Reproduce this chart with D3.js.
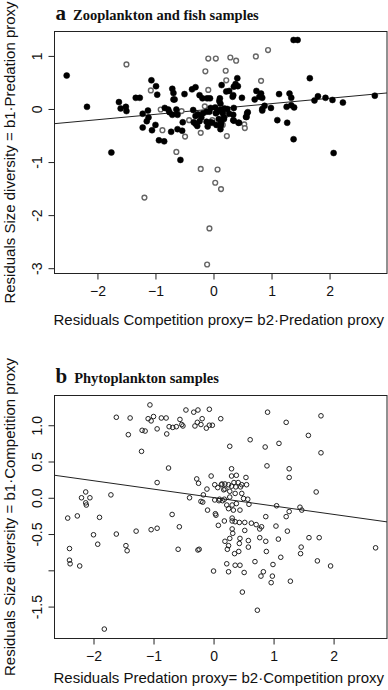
<!DOCTYPE html>
<html>
<head>
<meta charset="utf-8">
<script src="https://cdn.jsdelivr.net/npm/d3@7"></script>
<style>
  html, body { margin: 0; padding: 0; background: #fff; }
  svg { display: block; }
</style>
</head>
<body>
<div id="chart"></div>
<script>
// ---------- Data ----------
// Panel a: Zooplankton and fish samples (filled = zooplankton, open = fish)
const aFilled = [
  [-2.53,0.63],[-2.18,0.04],[-1.63,0.13],[-1.60,0.01],[-1.51,0.04],[-1.50,-0.04],[-1.34,0.21],[-1.27,0.21],
  [-1.07,0.54],[-0.99,0.43],[-0.97,0.27],[-1.22,-0.09],[-1.13,-0.03],[-1.15,-0.23],[-1.12,-0.16],[-1.22,-0.35],
  [-1.06,-0.40],[-1.00,-0.30],[-0.84,0.02],[-0.78,-0.01],[-0.71,0.38],[-0.69,0.30],[-0.69,0.18],[-0.67,0.18],
  [-0.50,0.28],[-0.37,0.37],[-0.31,0.41],[-0.24,0.26],[-0.19,0.20],[-0.11,0.20],[-0.06,0.20],[0.14,0.45],
  [0.11,0.20],[-0.76,-0.06],[-0.71,-0.11],[-0.64,-0.01],[-0.62,-0.11],[-0.53,-0.25],[-0.62,-0.38],[-0.54,-0.41],
  [-0.73,-0.43],[-0.94,-0.59],[-0.85,-0.61],[-1.76,-0.82],[-0.57,-0.96],
  [-0.35,-0.02],[-0.27,-0.10],[-0.12,-0.05],[-0.05,0.02],[0.03,0.03],[0.06,-0.06],[-0.34,-0.25],[-0.05,-0.25],
  [-0.28,-0.32],[-0.10,-0.33],[0.09,-0.19],[0.18,-0.19],[0.16,-0.08],[0.34,-0.11],[0.35,-0.22],[0.43,-0.26],
  [0.12,-0.38],[0.13,-0.30],[0.19,0.01],[0.24,0.00],[0.35,0.02],[0.12,0.10],[0.10,0.15],[0.14,-0.02],
  [0.41,0.58],[0.38,0.47],[0.42,0.43],[0.35,0.42],[0.22,0.33],[0.27,0.34],[0.34,0.26],[0.33,0.23],[0.49,0.21],
  [0.74,0.34],[0.82,0.29],[0.84,0.21],[0.79,0.23],[0.71,0.18],[1.13,0.28],[1.31,0.29],[1.34,0.21],[1.80,0.24],
  [1.74,0.16],[1.93,0.21],[2.05,0.17],[2.23,0.12],[2.78,0.25],[1.66,0.58],[1.38,1.30],[1.45,1.30],
  [0.84,0.00],[0.88,0.06],[0.99,0.02],[1.26,0.04],[1.34,0.07],[1.39,0.03],[0.59,-0.06],[0.57,-0.15],
  [1.10,-0.21],[1.27,-0.26],[1.38,-0.57],[2.07,-0.83],
  [-0.31,-0.28],[-0.24,-0.23],[-0.21,-0.16],[-0.12,-0.24],[-0.02,-0.26],[0.05,-0.30],[0.13,-0.26],[0.18,-0.16],
  [0.27,-0.09],[0.34,-0.21],[0.44,-0.26],[0.56,-0.15],[0.58,-0.08],[-0.31,-0.13],[-0.18,-0.08],[-0.07,-0.05],
  [0.04,-0.08],[0.11,-0.02],[0.84,-0.03]
];
const aOpen = [
  [-1.50,0.84],[-1.08,0.35],[-0.91,-0.01],[-0.55,-0.04],[-0.42,-0.21],[-0.88,-0.40],[-0.49,-0.52],[-0.22,-0.45],
  [-0.64,-0.81],[-0.09,0.36],[-0.14,0.71],[-0.09,0.95],[0.04,0.95],[0.29,0.97],[0.39,0.91],[0.21,0.72],
  [0.22,0.54],[0.73,0.99],[0.94,1.11],[0.82,0.53],[0.22,-0.11],[0.53,-0.29],[0.54,-0.36],[0.16,-0.30],
  [0.23,-0.51],[-0.22,-1.13],[0.07,-1.14],[0.03,-1.39],[0.13,-1.51],[-1.19,-1.67],[-0.07,-2.25],[-0.11,-2.93],
  [-0.02,-0.21],[0.23,-0.09],[0.20,-0.01],[-0.15,0.05]
];
const aFit = { slope: 0.101, intercept: 0.0 };
const aXTicks = [-2, -1, 0, 1, 2];
const aYTicks = [1, 0, -1, -2, -3];
const aYTickLabels = ["1", "0", "-1", "-2", "-3"];

// Panel b: Phytoplankton samples
const bPoints = [
  [-1.62,1.11],[-1.39,1.10],[-1.42,0.87],[-1.06,1.28],[-1.09,1.09],[-1.00,1.12],[-1.04,1.06],[-1.19,0.93],
  [-1.14,0.92],[-0.94,0.95],[-0.87,1.10],[-0.79,1.10],[-0.78,0.88],[-0.74,0.98],[-0.68,0.97],[-0.62,0.98],
  [-0.56,1.08],[-0.53,1.01],[-0.51,0.99],[-0.46,1.21],[-0.33,1.18],[-0.26,1.21],[-0.31,0.99],[-0.27,1.04],
  [-0.19,1.09],[-0.21,1.01],[-0.12,0.96],[-0.07,1.00],[-0.02,1.00],[-0.07,1.22],[0.12,1.09],[0.27,0.71],
  [0.61,0.80],[0.86,0.70],[1.09,0.75],[0.90,1.18],[1.21,1.04],[1.58,0.86],[1.79,1.13],
  [-1.20,0.64],[-0.75,0.41],[-0.94,0.21],[-1.71,0.04],[-2.13,0.08],[-2.20,0.00],[-2.06,0.00],[-2.13,-0.07],
  [-2.12,-0.10],[1.79,0.62],[0.89,0.44],[1.26,0.40],[1.26,0.28],[1.71,0.08],[0.30,0.40],[0.30,0.30],
  [0.38,0.31],[0.54,0.28],
  [-0.40,0.00],[-0.28,0.26],[-0.25,0.20],[-0.04,0.30],[-0.11,0.12],[-0.21,-0.05],[-0.18,-0.06],[-0.17,0.04],
  [0.02,0.18],[0.07,0.14],[0.14,0.19],[0.17,0.11],[0.02,-0.03],[0.09,-0.04],[0.15,-0.04],[-0.10,-0.17],
  [0.03,-0.22],[0.04,-0.24],
  [0.13,0.18],[0.19,0.19],[0.25,0.18],[0.34,0.21],[0.41,0.21],[0.47,0.18],[0.55,0.18],[0.45,0.15],
  [0.37,0.15],[0.30,0.16],[0.19,0.12],[0.27,0.09],[0.36,0.06],[0.47,0.06],[0.50,-0.01],[0.57,-0.02],
  [0.10,-0.02],[0.18,-0.02],[0.27,0.01],[0.22,-0.10],[0.25,-0.15],[0.33,-0.17],[0.38,-0.08],[0.31,-0.10],
  [0.59,-0.09],[0.44,-0.17],
  [1.05,-0.11],[1.44,-0.13],[1.47,-0.17],[1.26,-0.19],[0.87,-0.26],[1.21,-0.26],[0.31,-0.28],
  [-2.43,-0.28],[-2.27,-0.25],[-1.90,-0.27],[-0.69,-0.23],[-2.00,-0.51],[-1.93,-0.64],[-1.62,-0.50],
  [-2.40,-0.70],[-2.40,-0.86],[-2.39,-0.91],[-2.23,-0.94],[-1.46,-0.66],[-1.44,-0.73],[-1.29,-0.46],
  [-1.04,-0.44],[-0.94,-0.42],[-0.57,-0.40],[-0.59,-0.71],[-0.24,-0.71],[-0.26,-0.72],
  [0.08,-0.38],[0.18,-0.32],[0.31,-0.32],[0.36,-0.33],[0.43,-0.34],[0.52,-0.34],[0.63,-0.35],[0.71,-0.37],
  [0.77,-0.43],[0.80,-0.40],[1.04,-0.39],[1.23,-0.46],
  [0.31,-0.43],[0.32,-0.49],[0.27,-0.56],[0.19,-0.60],[0.25,-0.66],[0.23,-0.71],[0.44,-0.56],[0.43,-0.63],
  [0.52,-0.45],[0.58,-0.59],[0.58,-0.68],[0.42,-0.74],[0.35,-0.77],[0.77,-0.55],[0.87,-0.60],[1.08,-0.57],
  [0.88,-0.74],[1.12,-0.82],
  [0.22,-0.91],[0.36,-0.93],[0.44,-0.93],[0.25,-1.02],[0.51,-1.03],[0.69,-0.88],[0.83,-1.02],[0.79,-1.08],
  [0.99,-0.92],[0.98,-1.08],[0.96,-1.17],[1.28,-1.15],[0.48,-1.30],[0.73,-1.55],[0.00,-1.01],
  [1.46,-0.68],[1.45,-0.77],[1.59,-0.55],[1.76,-0.55],[1.73,-0.87],[1.95,-0.94],[2.70,-0.69],[-1.82,-1.81]
];
const bFit = { slope: -0.116, intercept: 0.003 };
const bXTicks = [-2, -1, 0, 1, 2];
const bYTicks = [1.0, 0.5, 0.0, -0.5, -1.0, -1.5];
const bYTickLabels = ["1.0", "0.5", "0.0", "-0.5", "", "-1.5"];

// ---------- Drawing ----------
const W = 388, H = 690;
const svg = d3.select("#chart").append("svg").attr("width", W).attr("height", H);
const SANS = "'Liberation Sans', Arial, Helvetica, sans-serif";
const SERIF = "'Liberation Serif', 'Times New Roman', serif";

function panel(cfg) {
  const x = d3.scaleLinear().domain(cfg.xDomain).range([cfg.left, cfg.right]);
  const y = d3.scaleLinear().domain(cfg.yDomain).range([cfg.bottom, cfg.top]);
  const g = svg.append("g");

  // title
  const t = g.append("text").attr("x", cfg.left + 1).attr("y", cfg.titleY)
    .attr("font-family", SERIF).attr("font-weight", "bold").attr("fill", "#111");
  t.append("tspan").attr("font-size", 21).text(cfg.letter);
  t.append("tspan").attr("font-size", 14.5).attr("dx", 7).text(cfg.title);

  // clip
  const clipId = "clip-" + cfg.letter;
  svg.append("clipPath").attr("id", clipId).append("rect")
    .attr("x", cfg.left).attr("y", cfg.top)
    .attr("width", cfg.right - cfg.left).attr("height", cfg.bottom - cfg.top);

  // x axis
  const xa = g.append("g").attr("transform", `translate(0,${cfg.bottom})`)
    .call(d3.axisBottom(x).tickValues(cfg.xTicks).tickFormat(d3.format("d")).tickSize(6).tickPadding(7));
  xa.select(".domain").remove();
  xa.selectAll("text").attr("font-family", SANS).attr("font-size", 14).attr("fill", "#111");
  xa.selectAll("line").attr("stroke", "#222");
  g.append("line").attr("x1", x(cfg.xTicks[0])).attr("x2", x(cfg.xTicks[cfg.xTicks.length - 1]))
    .attr("y1", cfg.bottom).attr("y2", cfg.bottom).attr("stroke", "#222");

  // y axis
  const ya = g.append("g").attr("transform", `translate(${cfg.left},0)`)
    .call(d3.axisLeft(y).tickValues(cfg.yTicks).tickFormat((d, i) => cfg.yTickLabels[i]).tickSize(6));
  ya.select(".domain").remove();
  ya.selectAll("line").attr("stroke", "#222");
  ya.selectAll("text").attr("font-family", SANS).attr("font-size", 14).attr("fill", "#111")
    .attr("x", null).attr("dy", null).attr("text-anchor", "middle")
    .attr("transform", "translate(-12.5,0) rotate(-90)");

  // axis titles
  g.append("text").attr("x", (cfg.left + cfg.right) / 2 - 2).attr("y", cfg.xTitleY)
    .attr("text-anchor", "middle").attr("font-family", SANS).attr("font-size", 15).attr("fill", "#111")
    .text(cfg.xTitle);
  g.append("text")
    .attr("transform", `translate(${cfg.yTitleX},${(cfg.top + cfg.bottom) / 2}) rotate(-90)`)
    .attr("text-anchor", "middle").attr("font-family", SANS).attr("font-size", 15).attr("fill", "#111")
    .text(cfg.yTitle);

  // regression line
  const xd = x.domain();
  const plot = g.append("g").attr("clip-path", `url(#${clipId})`);
  plot.append("line")
    .attr("x1", x(xd[0])).attr("y1", y(cfg.fit.intercept + cfg.fit.slope * xd[0]))
    .attr("x2", x(xd[1])).attr("y2", y(cfg.fit.intercept + cfg.fit.slope * xd[1]))
    .attr("stroke", "#222").attr("stroke-width", 1);

  // points
  cfg.series.forEach(s => {
    plot.append("g").selectAll("circle").data(s.data).join("circle")
      .attr("cx", d => x(d[0])).attr("cy", d => y(d[1])).attr("r", s.r)
      .attr("fill", s.fill).attr("stroke", s.stroke).attr("stroke-width", s.sw);
  });

  // box
  g.append("rect").attr("x", cfg.left).attr("y", cfg.top)
    .attr("width", cfg.right - cfg.left).attr("height", cfg.bottom - cfg.top)
    .attr("fill", "none").attr("stroke", "#222").attr("stroke-width", 1);
}

panel({
  letter: "a", title: "Zooplankton and fish samples", titleY: 20,
  left: 54.5, right: 387, top: 31.5, bottom: 273.5,
  xDomain: [-2.74, 2.99], yDomain: [-3.1, 1.46],
  xTicks: aXTicks, yTicks: aYTicks, yTickLabels: aYTickLabels,
  xTitle: "Residuals Competition proxy= b2\u00B7Predation proxy", xTitleY: 325,
  yTitle: "Residuals Size diversity = b1\u00B7Predation proxy", yTitleX: 15,
  fit: aFit,
  series: [
    { data: aOpen, r: 2.4, fill: "#fff", stroke: "#666", sw: 1.4 },
    { data: aFilled, r: 3, fill: "#000", stroke: "#000", sw: 0.5 }
  ]
});

panel({
  letter: "b", title: "Phytoplankton samples", titleY: 383,
  left: 54.5, right: 387, top: 395.5, bottom: 638.5,
  xDomain: [-2.65, 2.89], yDomain: [-1.94, 1.41],
  xTicks: bXTicks, yTicks: bYTicks, yTickLabels: bYTickLabels,
  xTitle: "Residuals Predation proxy= b2\u00B7Competition proxy", xTitleY: 683,
  yTitle: "Residuals Size diversity = b1\u00B7Competition proxy", yTitleX: 15,
  fit: bFit,
  series: [
    { data: bPoints, r: 2.3, fill: "none", stroke: "#222", sw: 1 }
  ]
});
</script>
</body>
</html>
